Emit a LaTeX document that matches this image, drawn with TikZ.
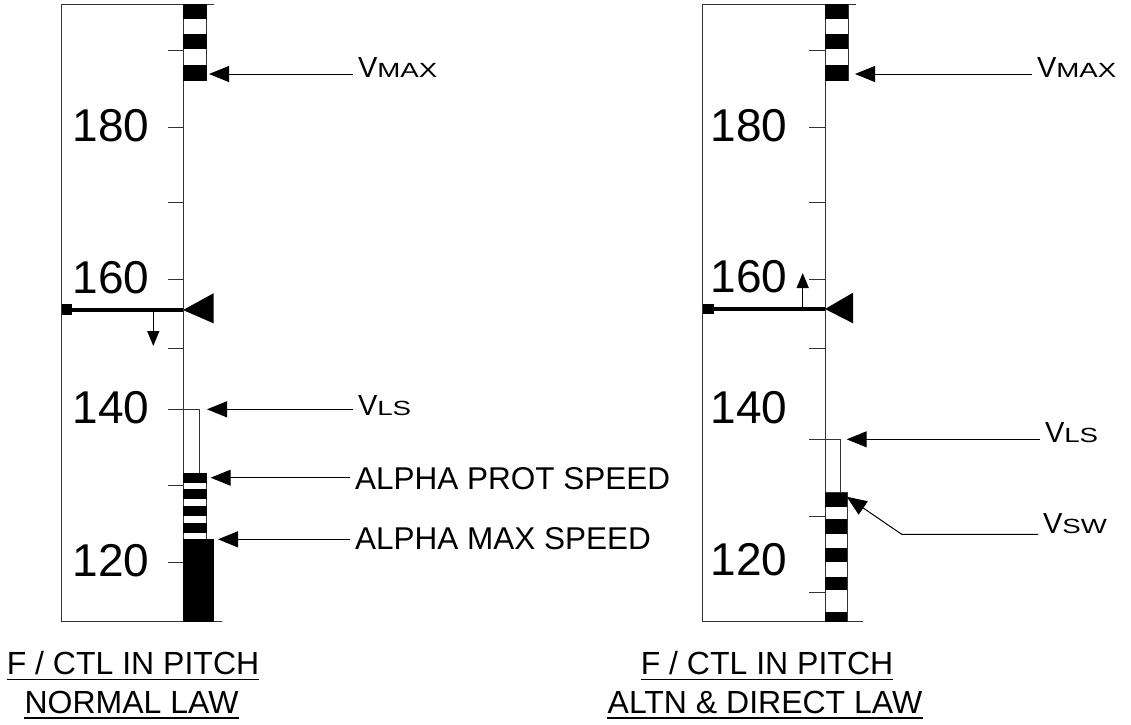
\documentclass[tikz,border=0pt]{standalone}
\usepackage{fontspec}
\setmainfont{Liberation Sans}
\newfontfamily\subfont[FakeStretch=1.35]{Liberation Sans}
\usetikzlibrary{arrows.meta}
\definecolor{tapeline}{HTML}{333333}
\tikzset{
  tape/.style={draw=tapeline, line width=1pt},
  scaletick/.style={draw=tapeline, line width=1pt},
  stripebox/.style={draw=tapeline, line width=0.8pt},
  callout/.style={draw=black, line width=1pt, -{Triangle[length=20pt,width=16pt]}},
  trend/.style={draw=black, line width=1.3pt, -{Triangle[length=15pt,width=12pt]}},
  speedline/.style={draw=black, line width=3.5pt},
  scalenum/.style={font=\fontsize{46}{46}\selectfont, anchor=base, inner sep=0pt},
  vtext/.style={font=\fontsize{29}{29}\selectfont, anchor=base west, inner sep=0pt, outer sep=5pt},
  captext/.style={font=\fontsize{31.5}{31.5}\selectfont, anchor=base west, inner sep=0pt, outer sep=5pt},
  title/.style={font=\fontsize{32}{32}\selectfont, anchor=base, inner sep=0pt},
  uline/.style={draw=black, line width=1.5pt}
}
\newcommand{\vsub}[1]{{\subfont\fontsize{20.5}{20.5}\selectfont #1}}

\begin{document}
\begin{tikzpicture}[x=1pt,y=-1pt]
\useasboundingbox (0,0) rectangle (1131,724);

% normal law tape
\draw[tape] (214,4) -- (61.5,4) -- (61.5,621.7) -- (221.7,621.7);
\draw[tape] (183,4) -- (183,621.7);
\foreach \y in {50,127,202,279,348,485,562}
  \draw[scaletick] (168,\y) -- (183,\y);
\draw[stripebox] (183,4) rectangle (206.5,80.7);
\foreach \a/\b in {4/19.3,34.3/49.3,65/80.7}
  \fill (183,\a) rectangle (206.5,\b);
\draw[stripebox] (183,473.3) rectangle (206.5,539.3);
\foreach \a/\b in {473.3/483.3,489.3/499.3,506/516,522.7/532.7}
  \fill (183,\a) rectangle (206.5,\b);
\fill (183,539.3) rectangle (214.3,621.7);
\draw[scaletick] (168,409.3) -- (199,409.3) -- (199,473.3);

\draw[speedline] (61.5,310) -- (183,310);
\fill (61.5,304) rectangle (72,315);
\fill (183,310) -- (213.5,293.3) -- (213.5,323.3) -- cycle;
\coordinate (spdA) at (153.3,310);
\coordinate (trendA) at (153.3,346);
\draw[trend] (spdA) -- (trendA);

\node[scalenum] (numA180) at (111,141.7) {180};
\node[scalenum] (numA160) at (111,293) {160};
\node[scalenum] (numA140) at (111,423) {140};
\node[scalenum] (numA120) at (111,576.7) {120};

\coordinate (vmaxAtip) at (209,74);
\coordinate (vlsAtip) at (207,409.3);
\coordinate (protAtip) at (210.7,477.7);
\coordinate (maxAtip) at (218,539.3);
\node[vtext] (vmaxA) at (353,77.3) {V\vsub{MAX}};
\node[vtext] (vlsA) at (353,415) {V\vsub{LS}};
\node[captext] (protA) at (350,489) {ALPHA PROT SPEED};
\node[captext] (maxA) at (350,549) {ALPHA MAX SPEED};
\draw[callout] (vmaxA.west |- vmaxAtip) -- (vmaxAtip);
\draw[callout] (vlsA.west |- vlsAtip) -- (vlsAtip);
\draw[callout] (protA.west |- protAtip) -- (protAtip);
\draw[callout] (maxA.west |- maxAtip) -- (maxAtip);

\node[title] (ttlA1) at (133,674.5) {F / CTL IN PITCH};
\node[title] (ttlA2) at (131.5,713) {NORMAL LAW};
\draw[uline] ([yshift=-4.8pt]ttlA1.base west) -- ([yshift=-4.8pt]ttlA1.base east);
\draw[uline] ([yshift=-4.8pt]ttlA2.base west) -- ([yshift=-4.8pt]ttlA2.base east);

% altn and direct law tape
\draw[tape] (855.7,4) -- (702.7,4) -- (702.7,621.7) -- (863,621.7);
\draw[tape] (825,4) -- (825,621.7);
\foreach \y in {50,127,202,279,348,516,592}
  \draw[scaletick] (809,\y) -- (825,\y);
\draw[stripebox] (825,4) rectangle (848.3,80.7);
\foreach \a/\b in {4/19.3,34.3/49.3,65/80.7}
  \fill (825,\a) rectangle (848.3,\b);
\draw[stripebox] (825,492.7) rectangle (847,621.7);
\foreach \a/\b in {492.7/506.7,519.3/534,548.3/561.7,576.7/590,612/621.7}
  \fill (825,\a) rectangle (847,\b);
\draw[scaletick] (809,439.3) -- (840.7,439.3) -- (840.7,492.7);

\draw[speedline] (702.7,309) -- (825,309);
\fill (702.7,304) rectangle (714,314);
\fill (825,309) -- (853,292.7) -- (853,323.3) -- cycle;
\coordinate (spdB) at (802.7,309);
\coordinate (trendB) at (802.7,273);
\draw[trend] (spdB) -- (trendB);

\node[scalenum] (numB180) at (749,141.7) {180};
\node[scalenum] (numB160) at (749,292.7) {160};
\node[scalenum] (numB140) at (749,423) {140};
\node[scalenum] (numB120) at (749,575) {120};

\coordinate (vmaxBtip) at (855,74);
\coordinate (vlsBtip) at (846.7,439.3);
\coordinate (vswBtip) at (846.7,496.7);
\coordinate (vswBbend) at (901.7,534.3);
\node[vtext] (vmaxB) at (1032,77.3) {V\vsub{MAX}};
\node[vtext] (vlsB) at (1040,442) {V\vsub{LS}};
\node[vtext] (vswB) at (1038,533) {V\vsub{SW}};
\draw[callout] (vmaxB.west |- vmaxBtip) -- (vmaxBtip);
\draw[callout] (vlsB.west |- vlsBtip) -- (vlsBtip);
\draw[callout] (vswB.west |- vswBbend) -- (vswBbend) -- (vswBtip);

\node[title] (ttlB1) at (767,674.5) {F / CTL IN PITCH};
\node[title] (ttlB2) at (765,713) {ALTN \& DIRECT LAW};
\draw[uline] ([yshift=-4.8pt]ttlB1.base west) -- ([yshift=-4.8pt]ttlB1.base east);
\draw[uline] ([yshift=-4.8pt]ttlB2.base west) -- ([yshift=-4.8pt]ttlB2.base east);

\end{tikzpicture}
\end{document}
